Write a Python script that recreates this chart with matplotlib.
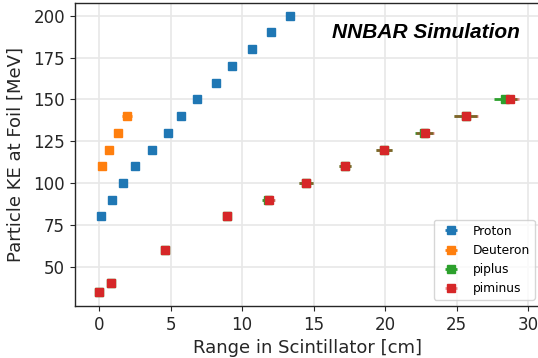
import matplotlib
matplotlib.use("Agg")
import matplotlib.pyplot as plt

# Data (range in scintillator [cm], KE at foil [MeV], horizontal error)
proton_ke = [80, 90, 100, 110, 120, 130, 140, 150, 160, 170, 180, 190, 200]
proton_range = [0.12, 0.89, 1.70, 2.52, 3.72, 4.84, 5.73, 6.87, 8.16, 9.31, 10.71, 12.02, 13.35]
proton_err = [0.05, 0.05, 0.06, 0.07, 0.08, 0.09, 0.1, 0.11, 0.12, 0.13, 0.14, 0.15, 0.16]

deuteron_ke = [110, 120, 130, 140]
deuteron_range = [0.23, 0.72, 1.35, 1.94]
deuteron_err = [0.1, 0.15, 0.2, 0.35]

piplus_ke = [35, 40, 60, 80, 90, 100, 110, 120, 130, 140, 150]
piplus_range = [0.02, 0.82, 4.59, 8.97, 11.83, 14.45, 17.16, 19.93, 22.74, 25.63, 28.4]
piplus_err = [0.1, 0.1, 0.2, 0.28, 0.42, 0.47, 0.42, 0.56, 0.63, 0.82, 0.8]

piminus_ke = [35, 40, 60, 80, 90, 100, 110, 120, 130, 140, 150]
piminus_range = [0.02, 0.82, 4.59, 8.97, 11.85, 14.47, 17.17, 19.94, 22.75, 25.65, 28.72]
piminus_err = [0.1, 0.1, 0.2, 0.28, 0.42, 0.47, 0.42, 0.56, 0.63, 0.82, 0.6]

fig = plt.figure(figsize=(5.38, 3.58), dpi=100)
ax = fig.add_axes([74.7 / 538, 1 - 306 / 358, (541 - 74.7) / 538, (306 - 2.7) / 358])

series = [
    ("Proton", proton_range, proton_ke, proton_err, "tab:blue"),
    ("Deuteron", deuteron_range, deuteron_ke, deuteron_err, "tab:orange"),
    ("piplus", piplus_range, piplus_ke, piplus_err, "tab:green"),
    ("piminus", piminus_range, piminus_ke, piminus_err, "tab:red"),
]
for name, xs, ys, errs, col in series:
    cont = ax.errorbar(xs, ys, xerr=errs, fmt="s", ms=6, color=col,
                       elinewidth=2, label=name, zorder=3)
    if name == "piminus":
        for lc in cont[2]:
            lc.set_alpha(0.5)

ax.set_xlim(-1.70, 30.89)
ax.set_ylim(26.5, 207.8)
ax.set_xticks([0, 5, 10, 15, 20, 25, 30])
ax.set_yticks([50, 75, 100, 125, 150, 175, 200])
ax.grid(True, color="#e8e8e8", linewidth=1.2, zorder=0)
ax.set_axisbelow(True)
ax.tick_params(labelsize=12, colors="#262626", labelcolor="#262626")
for sp in ax.spines.values():
    sp.set_color("#262626")
    sp.set_linewidth(1.0)

ax.set_xlabel("Range in Scintillator [cm]", fontsize=13, color="#262626", labelpad=4)
ax.set_ylabel("Particle KE at Foil [MeV]", fontsize=13, color="#262626", labelpad=6)

ax.text(0.9547, 0.8826, "NNBAR Simulation", transform=ax.transAxes,
        ha="right", va="baseline", fontsize=15, fontweight="bold",
        fontstyle="italic", family="Liberation Sans", color="black")

ax.legend(loc="lower right", fontsize=8.8, framealpha=0.8, borderaxespad=0.5)

fig.savefig("out.png", dpi=100)
